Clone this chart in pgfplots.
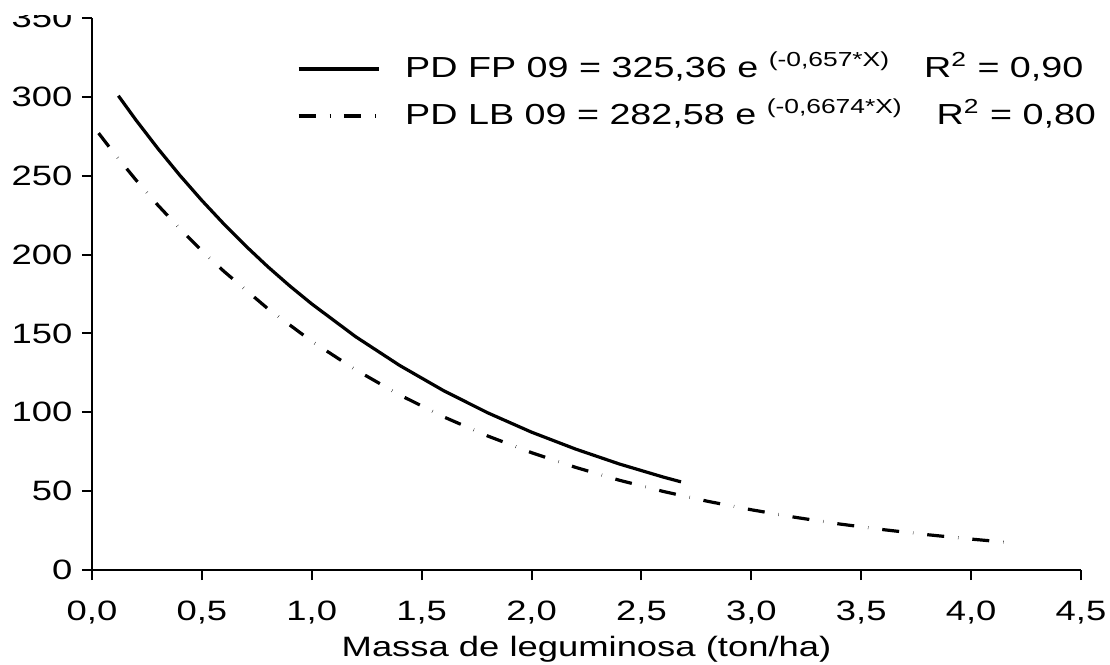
\documentclass[border=0pt]{standalone}
\usepackage{pgfplots}
\pgfplotsset{compat=1.18}
\usepackage{fontspec}
\setmainfont{Liberation Sans}[FakeStretch=1.3]

\begin{document}
\fontsize{14}{17}\selectfont
\begin{tikzpicture}
\begin{axis}[
  name=ax,
  at={(0,0)}, anchor=south west,
  scale only axis,
  width=494.5pt, height=276pt,
  xmin=0, xmax=4.5, ymin=0, ymax=350,
  axis lines=left,
  axis line style={line width=1pt, -},
  tick align=outside,
  tick style={line width=1pt, black},
  major tick length=5pt,
  xtick={0,0.5,1,1.5,2,2.5,3,3.5,4,4.5},
  ytick={0,50,100,150,200,250,300,350},
  /pgf/number format/assume math mode=true,
  xticklabel style={font=\fontsize{14}{17}\selectfont, anchor=base, yshift=-20pt, /pgf/number format/.cd, fixed, fixed zerofill, precision=1, use comma},
  yticklabel style={font=\fontsize{14}{17}\selectfont, /pgf/number format/.cd, fixed, precision=0},
  xlabel={Massa de leguminosa (ton/ha)},
  xlabel style={font=\fontsize{14}{17}\selectfont, at={(axis description cs:0.5,0)}, anchor=base, yshift=-43pt},
  legend cell align=left,
  legend style={draw=none, fill=none, at={(0.2073,0.865)}, anchor=west,
    font=\fontsize{14.5}{17}\selectfont, inner sep=0pt, outer sep=0pt,
    row sep=7.5pt, column sep=12.5pt,
    nodes={inner sep=0pt, text height=12pt, text depth=4pt}},
  legend image code/.code={\draw[#1] (0pt,0pt) -- (40pt,0pt);},
]
\addplot[black, line width=1.6pt] coordinates {
(0.12,300.7) (0.2,285.3) (0.3,267.2) (0.4,250.2) (0.5,234.3) (0.6,219.4)
(0.7,205.4) (0.8,192.3) (0.9,180.1) (1.0,168.7) (1.2,147.9) (1.4,129.7)
(1.6,113.7) (1.8,99.7) (2.0,87.4) (2.2,76.7) (2.4,67.2) (2.6,58.9) (2.68,55.9)
};
\addlegendentry{PD FP 09 = 325,36 e \textsuperscript{(-0,657*X)}\hspace{17pt}R\textsuperscript{2} = 0,90}
\addplot[black, line width=1.6pt, dash pattern=on 8.5pt off 7pt on 0.15pt off 7pt] coordinates {
(0.03,277.0) (0.1,264.3) (0.2,247.3) (0.3,231.3) (0.4,216.4) (0.5,202.4)
(0.6,189.4) (0.8,165.7) (1.0,145.0) (1.2,126.9) (1.4,111.0) (1.6,97.1)
(1.8,85.0) (2.0,74.4) (2.2,65.1) (2.4,56.9) (2.6,49.8) (2.8,43.6)
(3.0,38.2) (3.2,33.4) (3.4,29.2) (3.6,25.6) (3.8,22.4) (4.0,19.6) (4.2,17.1)
};
\addlegendentry{PD LB 09 = 282,58 e \textsuperscript{(-0,6674*X)}\hspace{17pt}R\textsuperscript{2} = 0,80}
\end{axis}
\fill[white] ([shift={(-46pt,1.5pt)}]ax.north west) rectangle ([shift={(14.5pt,9pt)}]ax.north east);
\pgfresetboundingbox
\path[use as bounding box] ([shift={(-46pt,-47pt)}]ax.south west) rectangle ([shift={(14.5pt,9pt)}]ax.north east);
\end{tikzpicture}
\end{document}
